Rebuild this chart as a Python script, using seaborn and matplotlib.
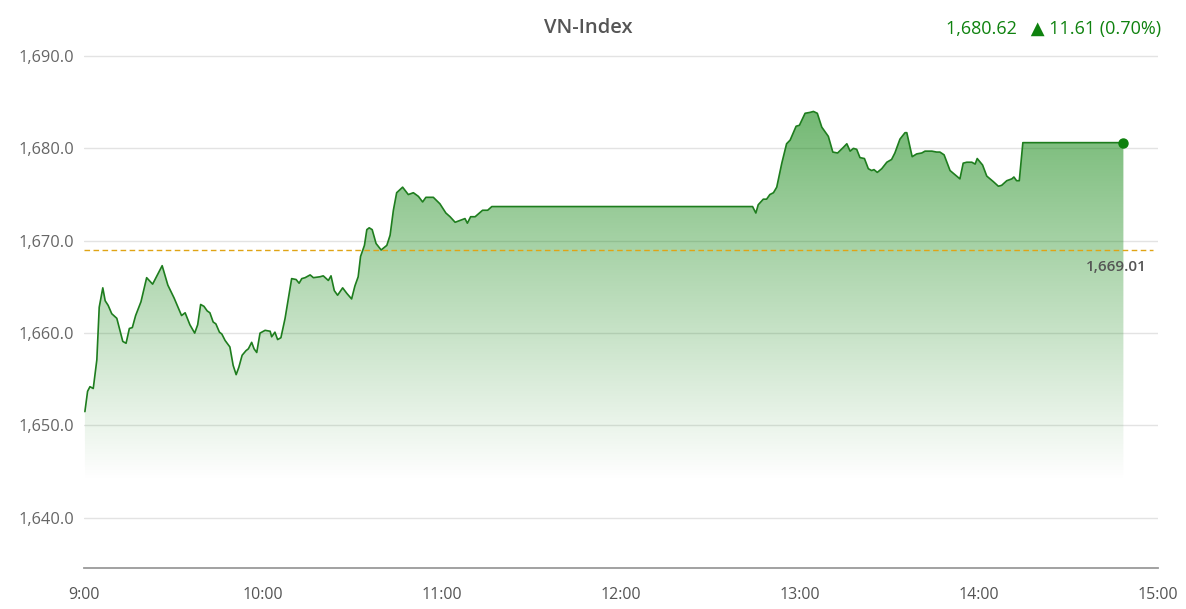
import numpy as np
import pandas as pd
import matplotlib
matplotlib.use("Agg")
import matplotlib.pyplot as plt
from matplotlib.patches import Polygon
from matplotlib.ticker import FuncFormatter
import seaborn as sb

sb.set_style("white")
plt.rcParams["font.family"] = ["Open Sans", "DejaVu Sans"]

# minutes after 9:00 and index value
minutes = [0.3, 1.2, 2.0, 3.1, 4.3, 5.1, 6.3, 7.1, 8.1, 9.3, 11.0, 13.0, 14.1, 15.2, 16.2, 17.3,
           19.1, 21.0, 23.0, 26.2, 28.1, 30.2, 32.7, 33.9, 35.5, 37.1, 38.1, 39.1, 40.2, 41.3,
           42.2, 43.3, 44.2, 45.4, 46.2, 47.3, 48.9, 50.0, 51.0, 51.9, 53.0, 54.3, 55.1, 56.2,
           57.0, 57.9, 59.0, 60.7, 62.4, 62.9, 64.0, 64.9, 66.0, 67.4, 69.6, 71.1, 72.1, 73.0,
           74.1, 75.8, 76.9, 79.1, 80.2, 81.9, 82.8, 83.9, 85.0, 86.7, 88.1, 89.7, 90.8, 91.9,
           92.7, 94.0, 94.8, 95.6, 96.6, 97.9, 99.6, 101.5, 102.6, 103.7, 104.8, 106.8, 108.7,
           110.4, 112.1, 113.5, 114.6, 117.1, 119.3, 121.3, 122.7, 124.4, 126.0, 127.7, 128.5,
           129.6, 131.1, 133.6, 135.3, 136.7, 224.1, 225.2, 226.0, 227.7, 228.8, 229.9, 231.1,
           232.2, 233.9, 235.5, 236.7, 238.7, 239.8, 241.7, 243.4, 244.5, 245.8, 247.3, 249.5,
           251.0, 252.6, 254.5, 255.7, 256.8, 257.9, 259.0, 260.1, 261.6, 262.9, 264.0, 264.8,
           265.9, 267.4, 269.1, 270.7, 271.8, 273.5, 275.2, 275.8, 277.6, 279.1, 280.8, 281.9,
           284.2, 285.8, 286.9, 288.3, 290.3, 293.6, 294.7, 295.9, 297.6, 298.7, 299.4, 301.2,
           302.6, 304.8, 306.5, 307.6, 309.3, 311.0, 311.7, 312.6, 313.5, 314.7, 348.4]
values = [1651.5, 1653.7, 1654.2, 1654.0, 1657.1, 1662.8, 1664.9, 1663.5, 1663.0, 1662.1, 1661.6,
          1659.1, 1658.9, 1660.5, 1660.6, 1661.9, 1663.4, 1666.0, 1665.3, 1667.3, 1665.2, 1663.8,
          1661.9, 1662.2, 1660.9, 1660.0, 1660.9, 1663.1, 1662.9, 1662.4, 1662.2, 1661.2, 1661.0,
          1660.1, 1659.9, 1659.2, 1658.5, 1656.5, 1655.5, 1656.3, 1657.6, 1658.1, 1658.3, 1659.0,
          1658.3, 1657.9, 1660.0, 1660.3, 1660.2, 1659.6, 1660.1, 1659.3, 1659.5, 1661.6, 1665.9,
          1665.8, 1665.4, 1665.9, 1666.0, 1666.3, 1666.0, 1666.1, 1666.2, 1665.7, 1666.2, 1664.6,
          1664.1, 1664.9, 1664.3, 1663.7, 1665.1, 1666.1, 1668.3, 1669.5, 1671.2, 1671.4, 1671.2,
          1669.7, 1669.0, 1669.5, 1670.6, 1673.3, 1675.2, 1675.8, 1675.0, 1675.2, 1674.8, 1674.2,
          1674.7, 1674.7, 1674.0, 1673.0, 1672.6, 1672.0, 1672.2, 1672.4, 1671.9, 1672.6, 1672.6,
          1673.3, 1673.3, 1673.7, 1673.7, 1673.0, 1673.9, 1674.5, 1674.5, 1675.0, 1675.2, 1675.8,
          1678.4, 1680.5, 1680.9, 1682.4, 1682.5, 1683.8, 1683.9, 1684.0, 1683.8, 1682.3, 1681.3,
          1679.6, 1679.5, 1680.1, 1680.5, 1679.7, 1680.0, 1679.9, 1679.0, 1678.9, 1677.8, 1677.6,
          1677.7, 1677.4, 1677.8, 1678.5, 1678.8, 1679.5, 1681.0, 1681.7, 1681.7, 1679.1, 1679.4,
          1679.5, 1679.7, 1679.7, 1679.6, 1679.6, 1679.3, 1677.6, 1676.7, 1678.4, 1678.5, 1678.5,
          1678.3, 1678.9, 1678.2, 1677.0, 1676.4, 1675.9, 1676.0, 1676.5, 1676.7, 1676.9, 1676.5,
          1676.5, 1680.62, 1680.62]

ref_value = 1669.01
tick_minutes = [0, 60, 120, 180, 240, 300, 360]
tick_labels = ["9:00", "10:00", "11:00", "12:00", "13:00", "14:00", "15:00"]
y_ticks = [1640, 1650, 1660, 1670, 1680, 1690]

df = pd.DataFrame({"minute": minutes, "value": values})

fig = plt.figure(figsize=(11.86, 6.09), dpi=100)
ax = fig.add_axes([84 / 1186, 1 - 567.7 / 609, (1158 - 84) / 1186, (567.7 - 28.3) / 609])
ymin, ymax = 1634.6, 1693.0
ax.set_xlim(0, 360)
ax.set_ylim(ymin, ymax)

# gradient fill under the line
grad_top, grad_bot = 1684.0, 1644.0
yy = np.linspace(ymin, grad_top, 300)
alpha = np.clip((yy - grad_bot) / (grad_top - grad_bot), 0, 1) * 0.55
rgba = np.zeros((len(yy), 1, 4))
rgba[..., 1] = 0.5
rgba[..., 3] = alpha[:, None]
im = ax.imshow(rgba, extent=(0, 360, ymin, grad_top), origin="lower", aspect="auto", zorder=1,
               interpolation="bilinear")
verts = [(df["minute"].iloc[0], ymin)] + list(zip(df["minute"], df["value"])) + [(df["minute"].iloc[-1], ymin)]
poly = Polygon(verts, closed=True, facecolor="none", edgecolor="none", transform=ax.transData)
ax.add_patch(poly)
im.set_clip_path(poly)

sb.lineplot(data=df, x="minute", y="value", color="#1e7d1e", linewidth=1.2, ax=ax, zorder=3)
ax.plot(df["minute"].iloc[-1], df["value"].iloc[-1], "o", color="#0d800d", markersize=6.5, zorder=4)

ax.axhline(ref_value, xmin=0, xmax=0.995, color="#e0a415", linewidth=1.0, linestyle=(0, (4, 2.5)), zorder=2)
ax.annotate(f"{ref_value:,.2f}", xy=(356.3, ref_value), xytext=(0, -7), textcoords="offset points",
            ha="right", va="top", fontsize=11, color="#555555", fontweight="semibold", zorder=5)

ax.set_yticks(y_ticks)
ax.yaxis.set_major_formatter(FuncFormatter(lambda v, p: f"{v:,.1f}"))
ax.set_xticks(tick_minutes)
ax.set_xticklabels(tick_labels)
ax.grid(axis="y", color="#e3e3e3", linewidth=1.0)
ax.grid(axis="x", visible=False)
ax.set_axisbelow(True)
for s in ["top", "right", "left"]:
    ax.spines[s].set_visible(False)
ax.spines["bottom"].set_color("#9a9a9a")
ax.spines["bottom"].set_linewidth(1.3)
ax.tick_params(axis="y", length=0, pad=7, labelsize=11.8, labelcolor="#666666")
ax.tick_params(axis="x", length=6, width=1, color="#9a9a9a", pad=8, labelsize=11.5, labelcolor="#555555")
ax.set_xlabel("")
ax.set_ylabel("")

fig.text(588 / 1186, 1 - 28 / 609, "VN-Index", ha="center", va="center", fontsize=14.5,
         fontweight="semibold", color="#555555")
fig.text(1161 / 1186, 1 - 29 / 609, "1,680.62   \u25B2 11.61 (0.70%)", ha="right", va="center",
         fontsize=13, color="#0f820f", family=["Open Sans", "DejaVu Sans"])

fig.savefig("out.png", dpi=100)
